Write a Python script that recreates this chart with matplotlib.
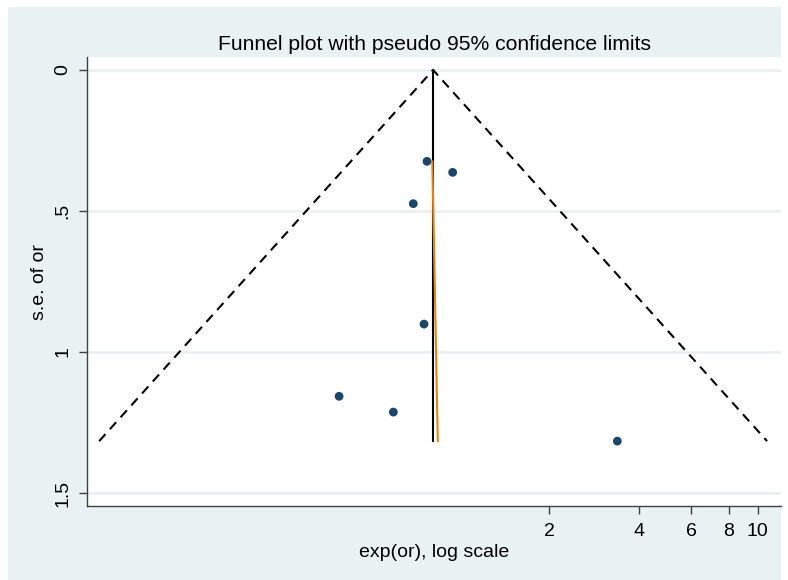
import matplotlib.pyplot as plt
import numpy as np
from matplotlib.patches import Rectangle

plt.rcParams['font.family'] = ['Liberation Sans', 'DejaVu Sans']

# study estimates: log odds ratios and their standard errors
log_or = [-0.251, -0.053, -0.357, -0.274, -0.930, -0.511, 1.219]
se_or = [0.324, 0.363, 0.474, 0.901, 1.157, 1.213, 1.316]
x_tick_values = [2, 4, 6, 8, 10]
y_tick_values = [0, 0.5, 1, 1.5]
y_tick_labels = ['0', '.5', '1', '1.5']

bg = '#eaf1f3'
navy = '#1a476f'

theta = np.array(log_or)
se = np.array(se_or)
w = 1 / se ** 2

# fixed-effect pooled estimate
pooled = np.sum(w * theta) / np.sum(w)
se_max = se.max()

# Egger line: weighted regression of estimate on standard error
slope, intercept = np.polyfit(se, theta, 1, w=np.sqrt(w))

fig = plt.figure(figsize=(7.88, 5.8), dpi=100)
fig.patches.append(Rectangle((8 / 788, 0), (781 - 8) / 788, (580 - 7) / 580,
                             transform=fig.transFigure, facecolor=bg,
                             edgecolor='none', zorder=-10))

ax = fig.add_axes([87 / 788, (580 - 506) / 580, (781 - 87) / 788, (506 - 57) / 580])
ax.set_facecolor('white')

for yv in y_tick_values:
    ax.axhline(yv, color=bg, lw=2, zorder=0)

# pseudo 95% confidence limits
ax.plot([pooled - 1.96 * se_max, pooled, pooled + 1.96 * se_max],
        [se_max, 0, se_max], color='black', lw=1.5, ls=(0, (4.5, 3.2)), zorder=2)
ax.plot([pooled, pooled], [0, se_max], color='black', lw=1.5, zorder=3)

se_line = np.array([se.min(), se.max()])
ax.plot(intercept + slope * se_line, se_line, color='#e8820c', lw=1.5, zorder=4)

ax.scatter(theta, se, s=40, color=navy, edgecolors='none', zorder=5)

ax.set_xlim(-2.877, 2.483)
ax.set_ylim(1.546, -0.046)

ax.set_xticks(np.log(x_tick_values))
ax.set_xticklabels([str(v) for v in x_tick_values])
ax.set_yticks(y_tick_values)
ax.set_yticklabels(y_tick_labels, rotation=90, va='center')

for side in ['top', 'right']:
    ax.spines[side].set_visible(False)
for side in ['left', 'bottom']:
    ax.spines[side].set_color('#404040')
    ax.spines[side].set_linewidth(1)

ax.tick_params(axis='both', length=6, width=1, color='#404040',
               labelsize=14, pad=5)
ax.tick_params(axis='x', pad=6)

ax.set_xlabel('exp(or), log scale', fontsize=14, labelpad=3)
ax.set_ylabel('s.e. of or', fontsize=14, labelpad=5)
ax.set_title('Funnel plot with pseudo 95% confidence limits', fontsize=15.2, pad=5)

fig.savefig('out.png', dpi=100, facecolor='white')
